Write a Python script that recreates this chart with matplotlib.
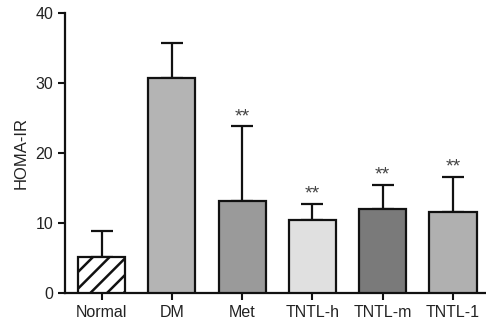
import matplotlib.pyplot as plt
import numpy as np

plt.rcParams["font.family"] = ["Liberation Sans", "DejaVu Sans"]
plt.rcParams["hatch.linewidth"] = 1.8

groups = ["Normal", "DM", "Met", "TNTL-h", "TNTL-m", "TNTL-1"]
means = [5.1, 30.7, 13.1, 10.4, 12.0, 11.6]
errors = [3.8, 5.0, 10.7, 2.3, 3.4, 5.0]
marks = ["", "", "**", "**", "**", "**"]
colors = ["white", "#b4b4b4", "#9a9a9a", "#e0e0e0", "#7a7a7a", "#b0b0b0"]

fig = plt.figure(figsize=(4.86, 3.26), dpi=100)
ax = fig.add_axes([0.134, 0.101, 0.866, 0.859])

x = np.arange(len(groups))
bars = ax.bar(x, means, width=0.67, color=colors, edgecolor="#111111",
              linewidth=1.6, zorder=3)
bars[0].set_hatch("//")
ax.errorbar(x, means, yerr=[np.zeros(len(means)), errors], fmt="none",
            ecolor="#111111", elinewidth=1.6, capsize=8, capthick=1.6, zorder=2)

for xi, m, e, s in zip(x, means, errors, marks):
    if s:
        ax.text(xi, m + e + 0.2, s, ha="center", va="bottom", fontsize=14,
                color="#444444")

ax.set_xlim(-0.52, 5.47)
ax.set_ylim(0, 40)
ax.set_yticks([0, 10, 20, 30, 40])
ax.set_xticks(x)
ax.set_xticklabels(groups, fontsize=11.5)
ax.set_ylabel("HOMA-IR", fontsize=12, color="#222222", labelpad=5)

for side in ["top", "right"]:
    ax.spines[side].set_visible(False)
for side in ["left", "bottom"]:
    ax.spines[side].set_linewidth(1.6)
    ax.spines[side].set_color("#111111")
ax.tick_params(width=1.5, length=5, colors="#111111", labelcolor="#222222")
ax.tick_params(axis="y", labelsize=11.5)

fig.savefig("out.png", dpi=100)
